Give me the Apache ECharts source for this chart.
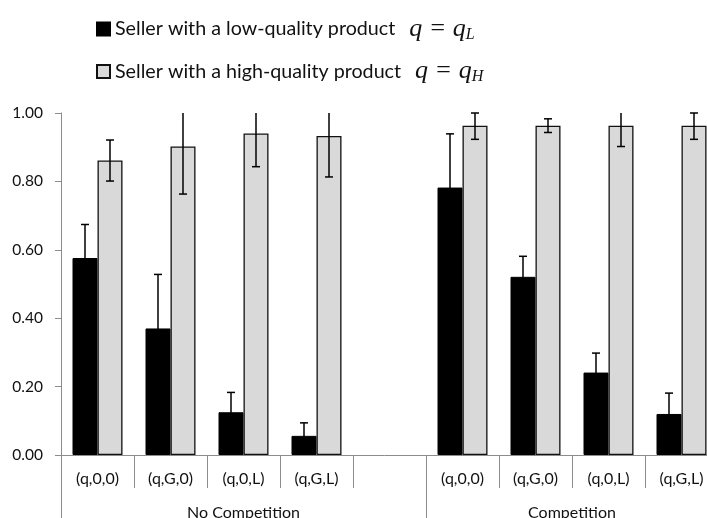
<!DOCTYPE html>
<html>
<head>
<meta charset="utf-8">
<script src="https://cdn.jsdelivr.net/npm/echarts@6/dist/echarts.min.js"></script>
<style>
  html, body { margin: 0; padding: 0; background: #fff; }
  #chart { width: 707px; height: 518px; }
</style>
</head>
<body>
<div id="chart"></div>
<script>
// Treatments per market condition; the empty slot separates the two groups.
const categories = ['(q,0,0)', '(q,G,0)', '(q,0,L)', '(q,G,L)', '', '(q,0,0)', '(q,G,0)', '(q,0,L)', '(q,G,L)'];
const groupLabels = ['No Competition', 'Competition'];
const groupSizes = [5, 4];

// Share of sellers, low-quality product (q = q_L)
const lowValues = [0.576, 0.370, 0.125, 0.056, null, 0.782, 0.521, 0.241, 0.120];
const lowErrors = [0.098, 0.158, 0.058, 0.038, null, 0.157, 0.060, 0.057, 0.061];
// Share of sellers, high-quality product (q = q_H)
const highValues = [0.861, 0.902, 0.940, 0.933, null, 0.963, 0.963, 0.963, 0.963];
const highErrors = [0.060, 0.139, 0.097, 0.120, null, 0.040, 0.020, 0.061, 0.040];

const yTicks = [0, 0.2, 0.4, 0.6, 0.8, 1.0];

const seriesNames = ['low', 'high'];
const BAR_W = 25;
const AXIS_GRAY = '#8c8c8c';
const TEXT = '#111';
const LABEL_FONT = 'Lato';

// Group boundaries and group label positions on a 0..N slot scale
const groupEdges = [0];
groupSizes.forEach(s => groupEdges.push(groupEdges[groupEdges.length - 1] + s));
const groupCenters = groupSizes.map((s, i) => groupEdges[i] + s / 2);

function legendText(desc, sub) {
  return '{t|' + desc + '}{m|q = q}{s|' + sub + '}';
}

function errorBarItem(values, errors, offset) {
  return function (params, api) {
    const i = api.value(0);
    const v = values[i], e = errors[i];
    if (v == null || e == null) return null;
    const yMax = yTicks[yTicks.length - 1];
    const top = Math.min(v + e, yMax);
    const bot = Math.max(v - e, 0);
    const pTop = api.coord([i, top]);
    const pBot = api.coord([i, bot]);
    const x = pTop[0] + offset;
    const cap = 4;
    const style = { stroke: '#000', lineWidth: 1.5 };
    const children = [
      { type: 'line', shape: { x1: x, y1: pTop[1], x2: x, y2: pBot[1] }, style: style }
    ];
    if (v + e <= yMax + 0.005) {
      children.push({ type: 'line', shape: { x1: x - cap, y1: pTop[1], x2: x + cap, y2: pTop[1] }, style: style });
    }
    if (v - e >= 0) {
      children.push({ type: 'line', shape: { x1: x - cap, y1: pBot[1], x2: x + cap, y2: pBot[1] }, style: style });
    }
    return { type: 'group', children: children };
  };
}

const chart = echarts.init(document.getElementById('chart'), null, { renderer: 'canvas' });

chart.setOption({
  animation: false,
  backgroundColor: '#fff',
  legend: {
    orient: 'vertical',
    left: 96,
    top: 16,
    padding: 0,
    itemWidth: 13,
    itemHeight: 13,
    itemGap: 16,
    icon: 'rect',
    data: seriesNames,
    formatter: function (name) {
      return name === 'low'
        ? legendText('Seller with a low-quality product', 'L')
        : legendText('Seller with a high-quality product', 'H');
    },
    textStyle: {
      rich: {
        t: { fontFamily: LABEL_FONT, fontSize: 19.7, color: TEXT, lineHeight: 27 },
        m: { fontFamily: 'Liberation Serif', fontStyle: 'italic', fontSize: 26, color: TEXT, lineHeight: 27, padding: [0, 0, 0, 14] },
        s: { fontFamily: 'Liberation Serif', fontStyle: 'italic', fontSize: 16, color: TEXT, lineHeight: 16, padding: [10, 0, 0, 0], verticalAlign: 'bottom' }
      }
    }
  },
  grid: {
    left: 61,
    right: -11,
    top: 113,
    bottom: 63,
    containLabel: false,
    outerBoundsMode: 'none'
  },
  xAxis: [
    {
      type: 'category',
      data: categories,
      boundaryGap: true,
      axisLine: { show: true, lineStyle: { color: AXIS_GRAY, width: 1 } },
      axisTick: { show: true, inside: false, length: 33, interval: 0, lineStyle: { color: AXIS_GRAY, width: 1 } },
      axisLabel: { interval: 0, margin: 16, fontFamily: LABEL_FONT, fontSize: 16, color: TEXT },
      splitLine: { show: false }
    },
    {
      type: 'value',
      min: 0,
      max: groupEdges[groupEdges.length - 1],
      position: 'bottom',
      axisLine: { show: false },
      axisTick: {
        show: true,
        inside: false,
        length: 70,
        customValues: groupEdges.slice(0, groupEdges.length - 1),
        lineStyle: { color: AXIS_GRAY, width: 1 }
      },
      axisLabel: {
        show: true,
        margin: 50,
        customValues: groupCenters,
        fontFamily: LABEL_FONT,
        fontSize: 16,
        color: TEXT,
        formatter: function (v) {
          const k = groupCenters.indexOf(v);
          return k >= 0 ? groupLabels[k] : '';
        }
      },
      splitLine: { show: false }
    }
  ],
  yAxis: {
    type: 'value',
    min: yTicks[0],
    max: yTicks[yTicks.length - 1],
    interval: 0.2,
    axisLine: { show: true, lineStyle: { color: AXIS_GRAY, width: 1 } },
    axisTick: { show: true, inside: false, length: 6, lineStyle: { color: AXIS_GRAY, width: 1 } },
    axisLabel: {
      margin: 18,
      fontFamily: LABEL_FONT,
      fontSize: 15.5,
      color: TEXT,
      formatter: function (v) { return v.toFixed(2); }
    },
    splitLine: { show: false }
  },
  series: [
    {
      name: 'low',
      type: 'bar',
      data: lowValues,
      barWidth: BAR_W,
      barGap: '0%',
      itemStyle: { color: '#000', borderColor: '#000', borderWidth: 1 }
    },
    {
      name: 'high',
      type: 'bar',
      data: highValues,
      barWidth: BAR_W,
      barGap: '0%',
      itemStyle: { color: '#d9d9d9', borderColor: '#111', borderWidth: 1.3 }
    },
    {
      type: 'custom',
      name: 'low-err',
      data: lowValues.map((v, i) => [i, v]),
      renderItem: errorBarItem(lowValues, lowErrors, -BAR_W / 2),
      clip: false,
      z: 5,
      silent: true
    },
    {
      type: 'custom',
      name: 'high-err',
      data: highValues.map((v, i) => [i, v]),
      renderItem: errorBarItem(highValues, highErrors, BAR_W / 2),
      clip: false,
      z: 5,
      silent: true
    }
  ]
});
</script>
</body>
</html>
